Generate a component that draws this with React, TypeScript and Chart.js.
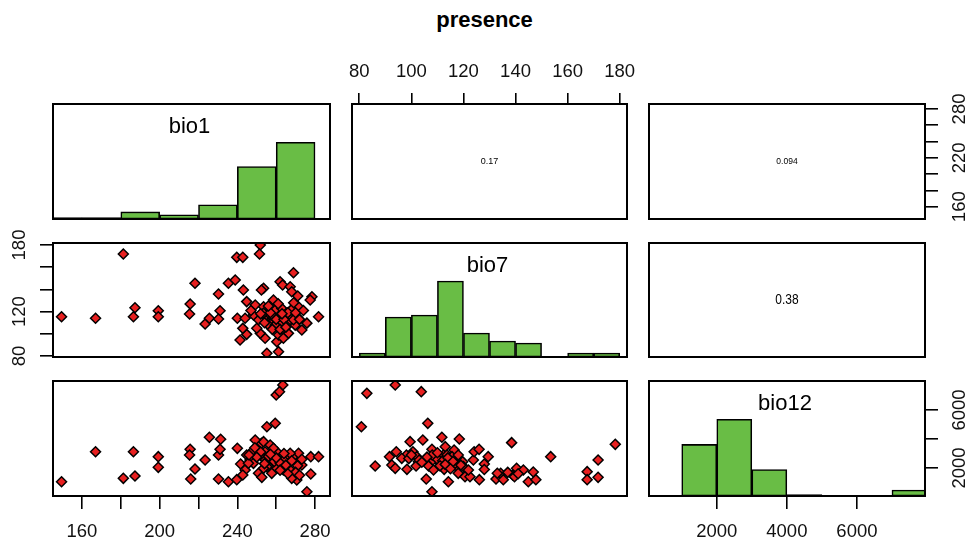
import React, { useEffect, useRef } from 'react';
import { Chart, registerables } from 'chart.js';
Chart.register(...registerables);

const FONT = 'Arial, "Liberation Sans", Helvetica, sans-serif';

const chartTitle = 'presence';
const varNames = ['bio1', 'bio7', 'bio12'];

// value ranges of each variable on horizontal / vertical axes
const bio1XRange = [145.1, 287.7];
const bio1YRange = [144.9, 286.1];
const bio7XRange = [77.2, 182.8];
const bio7YRange = [79.1, 181.8];
const bio12XRange = [66, 7943];
const bio12YRange = [69, 8000];

// ticks and labels
const bio1Ticks = [160, 180, 200, 220, 240, 260, 280];
const bio1BottomLabels = ['160', '', '200', '', '240', '', '280'];
const bio1RightLabels = ['160', '', '', '220', '', '', '280'];
const bio7Ticks = [80, 100, 120, 140, 160, 180];
const bio7TopLabels = ['80', '100', '120', '140', '160', '180'];
const bio7LeftLabels = ['80', '', '120', '', '', '180'];
const bio12Ticks = [2000, 4000, 6000];
const bio12BottomLabels = ['2000', '4000', '6000'];
const bio12RightLabels = ['2000', '', '6000'];

// histograms (bin mid-points and counts)
const bio1BinMids = [150, 170, 190, 210, 230, 250, 270];
const bio1Counts = [1, 1, 5, 3, 10, 37, 54];
const bio7BinMids = [85, 95, 105, 115, 125, 135, 145, 155, 165, 175];
const bio7Counts = [2, 20, 21, 38, 12, 8, 7, 0, 2, 2];
const bio12BinMids = [1500, 2500, 3500, 4500, 5500, 6500, 7500];
const bio12Counts = [35, 52, 18, 1, 0, 0, 4];

// correlations
const corBio1Bio7 = '0.17';
const corBio1Bio12 = '0.094';
const corBio7Bio12 = '0.38';

// scatter points [x, y]
const bio1VsBio7 = [
  [149.5, 115.4], [167, 114], [181.3, 171.9], [187.3, 123.5], [186.5, 115.4], [199.3, 120.8], [199.3, 115.4],
  [215.7, 126.8], [215.4, 117.8], [218.2, 145.5], [223.4, 108.8], [225.6, 114], [230.3, 135.9], [231.1, 120.8],
  [230.3, 113.3], [235.4, 145.5], [238.9, 148.5], [239.7, 168.9], [242.8, 168.9], [243.1, 139.5], [240, 114],
  [244, 114], [244.8, 129], [241.4, 94.4], [244.8, 99.5], [242.8, 104.9], [249.2, 126], [250.9, 112.6],
  [251.8, 180], [251.4, 171.9], [253.5, 141], [252.4, 139.5], [254.3, 96], [255.2, 82.4], [261.2, 83.9],
  [260.3, 92.9], [261.2, 98.9], [253.5, 124.4], [255.2, 116.9], [257.7, 112.6], [256, 107.8], [251.8, 100.4],
  [259.5, 121.4], [262, 116.9], [262.9, 122.9], [262, 146.9], [263.3, 144], [263.7, 103.4], [267.2, 142.4],
  [268, 137.9], [268.9, 155], [271.1, 134], [271.5, 124.4], [268, 122], [267.2, 112.6], [269.8, 107.8],
  [273.2, 103.4], [275.8, 109.6], [278.4, 133.4], [277.5, 130.5], [281.8, 115.4], [265.5, 118.6], [258.6, 130.5],
  [262.9, 109.6], [256.9, 116.9], [259.5, 107.8], [270.6, 115.4], [248.3, 116.9], [266.3, 100.4], [268.9, 112.6],
  [258.6, 115.4], [263.7, 96], [253.5, 118.6], [257, 119], [260, 113], [264, 113], [266, 119], [254, 110],
  [258, 104], [262, 104], [265, 106], [270, 119], [272, 113], [250, 105], [247, 121], [256, 125], [261, 127],
  [269, 128], [274, 121], [252, 118], [263, 118],
];

const bio1VsBio12 = [
  [149.5, 1055], [167, 3124], [181.3, 1287], [186.5, 3124], [187.3, 1448], [199.3, 2782], [199.3, 2046],
  [215.7, 3287], [215.4, 2897], [216, 1241], [218.2, 1931], [223.4, 2552], [225.6, 4117], [230.3, 2897],
  [231.1, 3287], [231.4, 3979], [230.3, 1241], [235.4, 1055], [239.7, 1195], [240, 3356], [241.7, 2276],
  [244, 1862], [244.8, 2897], [242.8, 1517], [252.4, 3702], [250.9, 1632], [252.6, 1356], [253.5, 3816],
  [255.2, 4849], [259.5, 5080], [260, 7035], [263.4, 7724], [261.7, 7265], [256.9, 3586], [254.3, 3124],
  [248.3, 3241], [253.5, 2667], [257.7, 2782], [260.3, 3124], [261.2, 2552], [262.9, 2092], [260.3, 1977],
  [263.7, 1862], [267.2, 1862], [268.9, 2782], [271.5, 3011], [273.2, 2207], [270.6, 2322], [268.9, 1402],
  [270.6, 1172], [268, 1287], [277.8, 2782], [281.8, 2782], [277.8, 1586], [275.8, 365], [255.2, 2092],
  [257.7, 1632], [246.5, 2552], [248.3, 2322], [251.8, 2897], [258.6, 3356], [265.5, 2667], [266.3, 2322],
  [273.2, 2600], [267.2, 3011], [253.5, 1977], [245.7, 2322], [249.2, 3931], [263.7, 2552], [258.6, 2437],
  [252, 3100], [256, 2800], [259, 2450], [262, 2350], [265, 2200], [268, 2500], [271, 2150], [260, 2700],
  [254, 2300], [250, 2750], [246, 2900], [264, 3000], [270, 1700], [272, 1500], [266, 1600], [262, 1850],
  [257, 2950], [249, 3400],
];

const bio7VsBio12 = [
  [82.9, 7149], [93.8, 7724], [103.8, 7265], [80.8, 4849], [106.3, 5080], [86.1, 2138], [91.6, 2782],
  [94.2, 3124], [92.5, 2207], [93.8, 1977], [98.3, 1908], [99.5, 3816], [98.1, 2897], [100.6, 3124],
  [102.1, 2782], [102.7, 2437], [104.4, 3931], [105.7, 1241], [107.9, 365], [107.9, 3287], [106.6, 2138],
  [109.8, 2782], [111.7, 4117], [113, 3471], [112.3, 2897], [111, 2322], [112.6, 1908], [114.2, 1055],
  [114.9, 2552], [116.4, 3241], [117.4, 2092], [118.4, 4000], [118, 1632], [119.7, 2437], [120.6, 1402],
  [123.8, 2552], [124.1, 3124], [126, 3287], [126.1, 1195], [128, 2276], [129.5, 2782], [122.5, 1402],
  [132.5, 1241], [134.3, 1632], [135.3, 1195], [138.5, 3748], [138.9, 1517], [140.4, 1977], [143, 1862],
  [144.9, 1055], [146.8, 1724], [147.8, 1195], [153.5, 2782], [167.5, 1747], [167.5, 1195], [171.7, 2552],
  [171.7, 1356], [178.3, 3633], [101.8, 2138], [108.3, 2552], [113.7, 2897], [115.6, 2782], [120, 2092],
  [121.9, 1862], [133, 1632], [139.6, 1402], [116.8, 2322], [103, 2552], [96.3, 2667], [108.5, 1862],
  [110, 2600], [112, 2500], [114, 2700], [116, 2450], [108, 2900], [106, 2750], [118, 2900], [111, 2150],
  [104, 2400], [99, 2650], [113, 2250], [115, 1950], [119, 2200], [137, 1700], [141, 1600], [128, 1900],
  [100, 2900], [110, 3050],
];

// ---- layout / style ----
const COLS = [[53, 330], [352, 627], [649, 925]];
const ROWS = [[104, 219], [243, 357], [381, 496]];
const PAD = 22;
const GREEN = '#69bd45';
const RED = '#e82020';
const TICK_FONT = 18.5;

type AxisSpec = { ticks: number[]; labels: string[]; size: number; tickLength: number; padding: number; rotate?: boolean };
type PanelSpec = {
  row: number; col: number; kind: 'hist' | 'scatter' | 'cor';
  xRange: number[]; yRange: number[];
  points?: number[][]; mids?: number[]; counts?: number[];
  label?: string; corText?: string; corSize?: number; corScale?: number;
  top?: AxisSpec; bottom?: AxisSpec; left?: AxisSpec; right?: AxisSpec;
};

const axBottom = (ticks: number[], labels: string[]): AxisSpec => ({ ticks, labels, size: 48, tickLength: 13, padding: 11.9 });
const axTop = (ticks: number[], labels: string[]): AxisSpec => ({ ticks, labels, size: 44, tickLength: 11, padding: 9.9 });
const axSide = (ticks: number[], labels: string[], padding: number, size: number): AxisSpec => ({ ticks, labels, size, tickLength: 13, padding, rotate: true });

const panels: PanelSpec[] = [
  { row: 0, col: 0, kind: 'hist', xRange: bio1XRange, yRange: bio1YRange, mids: bio1BinMids, counts: bio1Counts, label: varNames[0] },
  { row: 0, col: 1, kind: 'cor', xRange: bio7XRange, yRange: bio1YRange, corText: corBio1Bio7, corSize: 9, corScale: 1,
    top: axTop(bio7Ticks, bio7TopLabels) },
  { row: 0, col: 2, kind: 'cor', xRange: bio12XRange, yRange: bio1YRange, corText: corBio1Bio12, corSize: 8.5, corScale: 1,
    right: axSide(bio1Ticks, bio1RightLabels, 6.6, 52) },
  { row: 1, col: 0, kind: 'scatter', xRange: bio1XRange, yRange: bio7YRange, points: bio1VsBio7,
    left: axSide(bio7Ticks, bio7LeftLabels, 4.6, 50) },
  { row: 1, col: 1, kind: 'hist', xRange: bio7XRange, yRange: bio7YRange, mids: bio7BinMids, counts: bio7Counts, label: varNames[1] },
  { row: 1, col: 2, kind: 'cor', xRange: bio12XRange, yRange: bio7YRange, corText: corBio7Bio12, corSize: 15, corScale: 0.8 },
  { row: 2, col: 0, kind: 'scatter', xRange: bio1XRange, yRange: bio12YRange, points: bio1VsBio12,
    bottom: axBottom(bio1Ticks, bio1BottomLabels) },
  { row: 2, col: 1, kind: 'scatter', xRange: bio7XRange, yRange: bio12YRange, points: bio7VsBio12 },
  { row: 2, col: 2, kind: 'hist', xRange: bio12XRange, yRange: bio12YRange, mids: bio12BinMids, counts: bio12Counts, label: varNames[2],
    bottom: axBottom(bio12Ticks, bio12BottomLabels), right: axSide(bio12Ticks, bio12RightLabels, 1.4, 57) },
];

function linScale(range: number[], spec: AxisSpec | undefined, position: string) {
  const horizontal = position === 'top' || position === 'bottom';
  return {
    type: 'linear',
    position,
    min: range[0],
    max: range[1],
    offset: false,
    display: !!spec,
    afterBuildTicks: (s: any) => {
      if (spec) s.ticks = spec.ticks.map((v) => ({ value: v }));
    },
    afterFit: (s: any) => {
      if (!spec) return;
      if (horizontal) s.height = spec.size; else s.width = spec.size;
      s.paddingLeft = 0; s.paddingRight = 0; s.paddingTop = 0; s.paddingBottom = 0;
    },
    grid: {
      display: true, drawOnChartArea: false, drawTicks: true, offset: false,
      tickLength: spec ? spec.tickLength : 0, color: '#000', lineWidth: 1.6,
    },
    border: { display: false },
    ticks: {
      autoSkip: false,
      color: '#111',
      font: { family: FONT, size: TICK_FONT },
      padding: spec ? spec.padding : 0,
      minRotation: spec && spec.rotate ? 90 : 0,
      maxRotation: spec && spec.rotate ? 90 : 0,
      crossAlign: spec && spec.rotate ? 'center' : 'near',
      callback: (v: any) => {
        if (!spec) return '';
        const i = spec.ticks.indexOf(Number(v));
        return i >= 0 ? spec.labels[i] : '';
      },
    },
  };
}

function Panel({ spec }: { spec: PanelSpec }) {
  const ref = useRef<HTMLCanvasElement | null>(null);
  const [x0, x1] = COLS[spec.col];
  const [y0, y1] = ROWS[spec.row];
  const la = spec.left ? spec.left.size : 0;
  const ra = spec.right ? spec.right.size : 0;
  const ta = spec.top ? spec.top.size : 0;
  const ba = spec.bottom ? spec.bottom.size : 0;
  const w = x1 - x0 + la + ra + 2 * PAD;
  const h = y1 - y0 + ta + ba + 2 * PAD;
  const left = x0 - la - PAD;
  const top = y0 - ta - PAD;

  useEffect(() => {
    if (!ref.current) return;
    const scales: any = {
      x: linScale(spec.xRange, spec.bottom || spec.top, spec.top ? 'top' : 'bottom'),
    };
    let datasets: any[] = [];
    let type: any = 'scatter';
    if (spec.kind === 'hist') {
      type = 'bar';
      const maxC = Math.max(...(spec.counts as number[]));
      scales.y = { type: 'linear', min: 0, max: maxC * 1.5, display: false, offset: false };
      if (spec.right) scales.yr = linScale(spec.yRange, spec.right, 'right');
      datasets = [{
        data: (spec.mids as number[]).map((m, i) => ({ x: m, y: (spec.counts as number[])[i] })),
        backgroundColor: GREEN, borderColor: '#000', borderWidth: 1.6, borderSkipped: false,
        barPercentage: 1, categoryPercentage: 1, clip: 0, yAxisID: 'y',
      }];
    } else {
      scales.y = linScale(spec.yRange, spec.left || spec.right, spec.left ? 'left' : 'right');
      if (spec.kind === 'scatter') {
        datasets = [{
          data: (spec.points as number[][]).map(([x, y]) => ({ x, y })),
          pointStyle: 'rectRot', pointRadius: 5, backgroundColor: RED, borderColor: '#000', borderWidth: 1.5,
          showLine: false, clip: 0,
        }];
      }
    }
    const frame = {
      id: 'frame',
      afterDraw(chart: any) {
        const { ctx, chartArea: a } = chart;
        ctx.save();
        ctx.fillStyle = '#000';
        if (spec.label) {
          ctx.font = `22px ${FONT}`;
          ctx.textAlign = 'center';
          ctx.textBaseline = 'alphabetic';
          ctx.fillText(spec.label, (a.left + a.right) / 2 - 2, a.top + 29);
        }
        if (spec.corText) {
          ctx.translate((a.left + a.right) / 2, (a.top + a.bottom) / 2);
          ctx.scale(spec.corScale || 1, 1);
          ctx.font = `${spec.corSize}px ${FONT}`;
          ctx.textAlign = 'center';
          ctx.textBaseline = 'middle';
          ctx.fillText(spec.corText, 0, 0);
          ctx.setTransform(1, 0, 0, 1, 0, 0);
        }
        ctx.strokeStyle = '#000';
        ctx.lineWidth = 2;
        ctx.strokeRect(a.left, a.top, a.right - a.left, a.bottom - a.top);
        ctx.restore();
      },
    };
    const chart = new Chart(ref.current, {
      type,
      data: { datasets },
      options: {
        animation: false,
        responsive: false,
        events: [],
        layout: { padding: PAD, autoPadding: false },
        plugins: { legend: { display: false }, tooltip: { enabled: false }, title: { display: false } },
        scales,
      } as any,
      plugins: [frame],
    });
    return () => chart.destroy();
  }, []);

  return (
    <canvas
      ref={ref}
      width={w}
      height={h}
      style={{ position: 'absolute', left, top, width: w, height: h }}
    />
  );
}

export default function App() {
  return (
    <div style={{ position: 'fixed', left: 0, top: 0, width: 969, height: 544, background: '#fff', overflow: 'hidden' }}>
      <div
        style={{
          position: 'absolute', left: 0, top: 8, width: 969, textAlign: 'center',
          font: `bold 22px ${FONT}`, lineHeight: '24px', color: '#000',
        }}
      >
        {chartTitle}
      </div>
      {panels.map((p, i) => (
        <Panel key={i} spec={p} />
      ))}
    </div>
  );
}
